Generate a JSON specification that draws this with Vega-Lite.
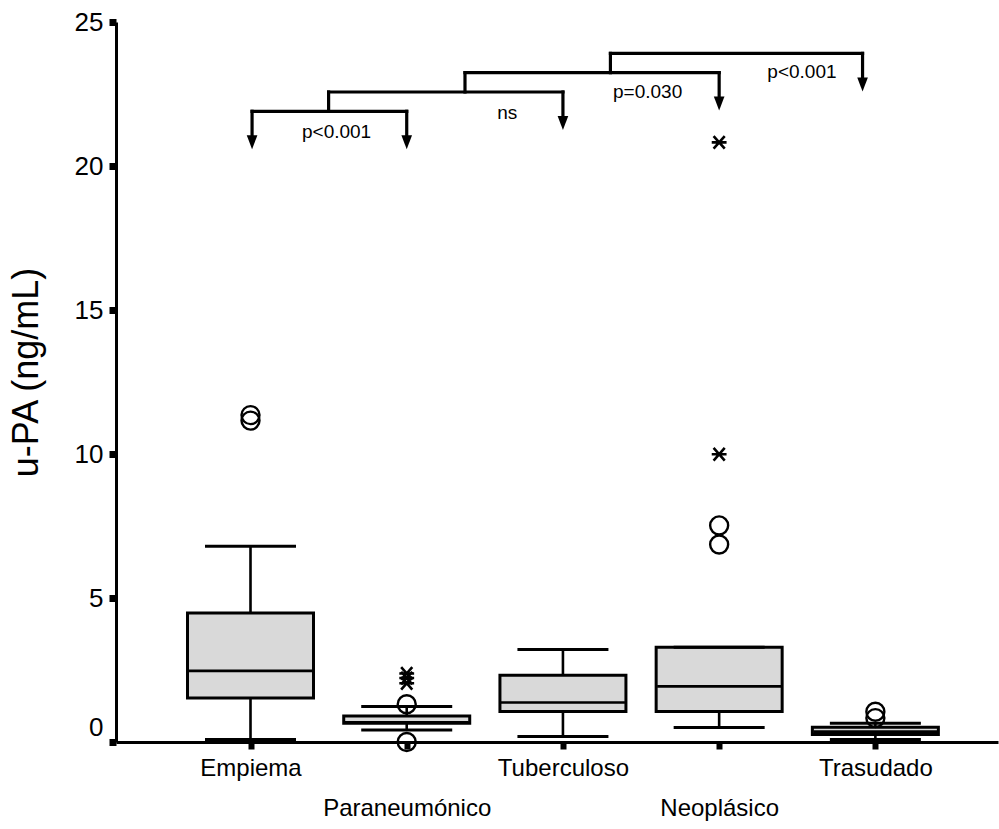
{
  "$schema": "https://vega.github.io/schema/vega-lite/v6.json",
  "width": 882,
  "height": 720,
  "autosize": {"type": "none"},
  "padding": {"left": 116, "top": 22, "right": 1, "bottom": 87},
  "background": "white",
  "config": {
    "view": {"stroke": null},
    "font": "Liberation Sans",
    "axis": {"grid": false, "domainColor": "black", "tickColor": "black", "labelColor": "black", "titleColor": "black", "labelFont": "Liberation Sans", "titleFont": "Liberation Sans"}
  },
  "datasets": {
    "boxes": [
      {"group": "Empiema", "pos": 1, "lo": 0.09, "q1": 1.53, "med": 2.47, "q3": 4.48, "hi": 6.8},
      {"group": "Paraneumónico", "pos": 2, "lo": 0.42, "q1": 0.65, "med": 0.68, "q3": 0.9, "hi": 1.23},
      {"group": "Tuberculoso", "pos": 3, "lo": 0.19, "q1": 1.06, "med": 1.37, "q3": 2.32, "hi": 3.21},
      {"group": "Neoplásico", "pos": 4, "lo": 0.5, "q1": 1.06, "med": 1.93, "q3": 3.29, "hi": 3.29},
      {"group": "Trasudado", "pos": 5, "lo": 0.09, "q1": 0.26, "med": 0.36, "q3": 0.51, "hi": 0.65}
    ],
    "circles": [
      {"pos": 1, "value": 11.35},
      {"pos": 1, "value": 11.16},
      {"pos": 2, "value": 1.31},
      {"pos": 2, "value": 0.0},
      {"pos": 4, "value": 7.52},
      {"pos": 4, "value": 6.86},
      {"pos": 5, "value": 1.05},
      {"pos": 5, "value": 0.83}
    ],
    "stars": [
      {"pos": 2, "value": 2.38},
      {"pos": 2, "value": 2.22},
      {"pos": 2, "value": 2.04},
      {"pos": 4, "value": 20.82},
      {"pos": 4, "value": 9.99}
    ],
    "segments": [
      {"pos": 1.01, "pos2": 2.0, "y": 21.9, "y2": 21.9},
      {"pos": 1.01, "pos2": 1.01, "y": 21.9, "y2": 20.9},
      {"pos": 2.0, "pos2": 2.0, "y": 21.9, "y2": 20.9},
      {"pos": 1.5, "pos2": 1.5, "y": 21.9, "y2": 22.57},
      {"pos": 1.5, "pos2": 3.0, "y": 22.57, "y2": 22.57},
      {"pos": 3.0, "pos2": 3.0, "y": 22.57, "y2": 21.57},
      {"pos": 2.373, "pos2": 2.373, "y": 22.57, "y2": 23.24},
      {"pos": 2.373, "pos2": 4.0, "y": 23.24, "y2": 23.24},
      {"pos": 4.0, "pos2": 4.0, "y": 23.24, "y2": 22.25},
      {"pos": 3.304, "pos2": 3.304, "y": 23.24, "y2": 23.91},
      {"pos": 3.304, "pos2": 4.918, "y": 23.91, "y2": 23.91},
      {"pos": 4.918, "pos2": 4.918, "y": 23.91, "y2": 22.91}
    ],
    "arrows": [
      {"pos": 1.01, "value": 20.58},
      {"pos": 2.0, "value": 20.58},
      {"pos": 3.0, "value": 21.25},
      {"pos": 4.0, "value": 21.93},
      {"pos": 4.918, "value": 22.59}
    ],
    "labels": [
      {"pos": 1.551, "value": 21.18, "text": "p<0.001"},
      {"pos": 2.644, "value": 21.85, "text": "ns"},
      {"pos": 3.542, "value": 22.58, "text": "p=0.030"},
      {"pos": 4.53, "value": 23.25, "text": "p<0.001"}
    ]
  },
  "layer": [
    {
      "data": {"name": "boxes"},
      "mark": {"type": "rule", "color": "black", "strokeWidth": 2.6},
      "encoding": {
        "x": {"field": "pos", "type": "quantitative", "title": null,
          "scale": {"domain": [0.171, 5.753], "nice": false, "zero": false},
          "axis": {
            "values": [1, 2, 3, 4, 5],
            "labelExpr": "['','Empiema','Paraneumónico','Tuberculoso','Neoplásico','Trasudado'][datum.value]",
            "labelPadding": {"condition": {"test": "datum.value == 2 || datum.value == 4", "value": 47}, "value": 7},
            "labelFontSize": 24,
            "labelOverlap": false,
            "labelFlush": false,
            "tickSize": 7,
            "tickWidth": 6,
            "domainWidth": 3,
            "title": null
          }
        },
        "y": {"field": "lo", "type": "quantitative", "title": "u-PA (ng/mL)",
          "scale": {"domain": [0, 25], "nice": false, "zero": true},
          "axis": {
            "values": [0, 5, 10, 15, 20, 25],
            "labelFontSize": 26,
            "labelPadding": 6,
            "labelOffset": {"condition": {"test": "datum.value == 0", "value": -15}, "value": 0},
            "tickSize": 7,
            "tickWidth": 7,
            "domainWidth": 3,
            "title": "u-PA (ng/mL)",
            "titleFontSize": 36,
            "titleFontWeight": "normal",
            "titleAngle": -90,
            "titleX": -79,
            "titleY": 350,
            "titleBaseline": "alphabetic",
            "titleAlign": "center"
          }
        },
        "y2": {"field": "hi"}
      }
    },
    {
      "data": {"name": "boxes"},
      "mark": {"type": "bar", "width": 126, "fill": "#d9d9d9", "stroke": "black", "strokeWidth": 3},
      "encoding": {
        "x": {"field": "pos", "type": "quantitative", "title": null, "scale": {"domain": [0.171, 5.753], "nice": false, "zero": false}},
        "y": {"field": "q1", "type": "quantitative", "title": "u-PA (ng/mL)", "scale": {"domain": [0, 25], "nice": false, "zero": true}},
        "y2": {"field": "q3"}
      }
    },
    {
      "data": {"name": "boxes"},
      "mark": {"type": "tick", "orient": "horizontal", "size": 124, "thickness": 2.6, "color": "black", "opacity": 1},
      "encoding": {
        "x": {"field": "pos", "type": "quantitative", "title": null, "scale": {"domain": [0.171, 5.753], "nice": false, "zero": false}},
        "y": {"field": "med", "type": "quantitative", "title": "u-PA (ng/mL)", "scale": {"domain": [0, 25], "nice": false, "zero": true}}
      }
    },
    {
      "data": {"name": "boxes"},
      "mark": {"type": "tick", "orient": "horizontal", "size": 91, "thickness": 3, "color": "black", "opacity": 1},
      "encoding": {
        "x": {"field": "pos", "type": "quantitative", "title": null, "scale": {"domain": [0.171, 5.753], "nice": false, "zero": false}},
        "y": {"field": "hi", "type": "quantitative", "title": "u-PA (ng/mL)", "scale": {"domain": [0, 25], "nice": false, "zero": true}}
      }
    },
    {
      "data": {"name": "boxes"},
      "mark": {"type": "tick", "orient": "horizontal", "size": 91, "thickness": 3, "color": "black", "opacity": 1},
      "encoding": {
        "x": {"field": "pos", "type": "quantitative", "title": null, "scale": {"domain": [0.171, 5.753], "nice": false, "zero": false}},
        "y": {"field": "lo", "type": "quantitative", "title": "u-PA (ng/mL)", "scale": {"domain": [0, 25], "nice": false, "zero": true}}
      }
    },
    {
      "data": {"name": "circles"},
      "mark": {"type": "point", "shape": "circle", "filled": false, "size": 324, "stroke": "black", "strokeWidth": 2.4, "opacity": 1},
      "encoding": {
        "x": {"field": "pos", "type": "quantitative", "title": null, "scale": {"domain": [0.171, 5.753], "nice": false, "zero": false}},
        "y": {"field": "value", "type": "quantitative", "title": "u-PA (ng/mL)", "scale": {"domain": [0, 25], "nice": false, "zero": true}}
      }
    },
    {
      "data": {"name": "stars"},
      "mark": {"type": "point", "shape": "M-1,0L1,0M-0.75,-0.85L0.75,0.85M-0.75,0.85L0.75,-0.85", "filled": false, "size": 220, "stroke": "black", "strokeWidth": 2.6, "opacity": 1},
      "encoding": {
        "x": {"field": "pos", "type": "quantitative", "title": null, "scale": {"domain": [0.171, 5.753], "nice": false, "zero": false}},
        "y": {"field": "value", "type": "quantitative", "title": "u-PA (ng/mL)", "scale": {"domain": [0, 25], "nice": false, "zero": true}}
      }
    },
    {
      "data": {"name": "segments"},
      "mark": {"type": "rule", "color": "black", "strokeWidth": 3.2, "strokeCap": "square"},
      "encoding": {
        "x": {"field": "pos", "type": "quantitative", "title": null, "scale": {"domain": [0.171, 5.753], "nice": false, "zero": false}},
        "x2": {"field": "pos2"},
        "y": {"field": "y", "type": "quantitative", "title": "u-PA (ng/mL)", "scale": {"domain": [0, 25], "nice": false, "zero": true}},
        "y2": {"field": "y2"}
      }
    },
    {
      "data": {"name": "arrows"},
      "mark": {"type": "point", "shape": "M-0.38,-1L0.38,-1L0,0Z", "filled": true, "size": 784, "color": "black", "opacity": 1},
      "encoding": {
        "x": {"field": "pos", "type": "quantitative", "title": null, "scale": {"domain": [0.171, 5.753], "nice": false, "zero": false}},
        "y": {"field": "value", "type": "quantitative", "title": "u-PA (ng/mL)", "scale": {"domain": [0, 25], "nice": false, "zero": true}}
      }
    },
    {
      "data": {"name": "labels"},
      "mark": {"type": "text", "font": "Liberation Sans", "fontSize": 19, "color": "black", "align": "center", "baseline": "middle"},
      "encoding": {
        "x": {"field": "pos", "type": "quantitative", "title": null, "scale": {"domain": [0.171, 5.753], "nice": false, "zero": false}},
        "y": {"field": "value", "type": "quantitative", "title": "u-PA (ng/mL)", "scale": {"domain": [0, 25], "nice": false, "zero": true}},
        "text": {"field": "text", "type": "nominal"}
      }
    },
    {
      "mark": {"type": "rule", "color": "black", "strokeWidth": 2.5},
      "encoding": {
        "y": {"datum": 25, "type": "quantitative", "scale": {"domain": [0, 25], "nice": false, "zero": true}}
      }
    }
  ]
}
